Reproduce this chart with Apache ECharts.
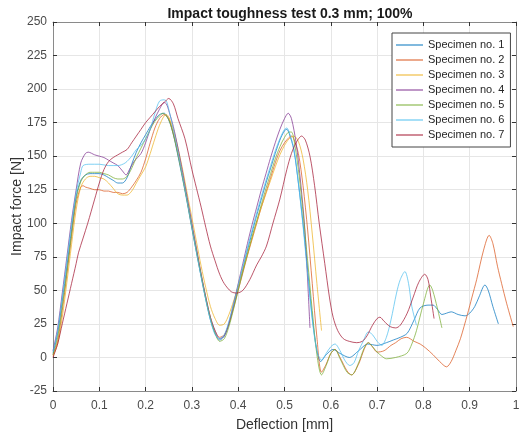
<!DOCTYPE html>
<html>
<head>
<meta charset="utf-8">
<script src="https://cdn.jsdelivr.net/npm/echarts@6/dist/echarts.min.js"></script>
<style>
html,body{margin:0;padding:0;background:#fff;}
#chart{width:524px;height:434px;}
</style>
</head>
<body>
<div id="chart"></div>
<script>
const titleText = 'Impact toughness test 0.3 mm; 100%';
const xName = 'Deflection [mm]';
const yName = 'Impact force [N]';
const seriesNames = ['Specimen no. 1','Specimen no. 2','Specimen no. 3','Specimen no. 4','Specimen no. 5','Specimen no. 6','Specimen no. 7'];

const specimen1 = [[0,3],[0.01,18],[0.02,42],[0.03,68],[0.04,95],[0.05,120],[0.06,132],[0.07,136],[0.08,137],[0.09,137],[0.10,137],[0.11,136],[0.12,134],[0.13,132],[0.14,130],[0.15,130],[0.16,134],[0.17,144],[0.18,153],[0.19,160],[0.20,166],[0.21,172],[0.22,177],[0.23,181],[0.24,182],[0.25,177],[0.26,166],[0.27,150],[0.28,133],[0.29,115],[0.30,96],[0.31,78],[0.32,60],[0.33,43],[0.34,28],[0.35,18],[0.36,13],[0.37,16],[0.38,25],[0.39,38],[0.40,52],[0.41,66],[0.42,80],[0.43,93],[0.44,106],[0.45,118],[0.46,130],[0.47,141],[0.48,152],[0.49,162],[0.50,169],[0.505,170],[0.51,167],[0.52,155],[0.53,130],[0.54,100],[0.55,65],[0.56,30],[0.57,5],[0.578,-3],[0.59,2],[0.605,6],[0.62,3],[0.64,0],[0.66,5],[0.68,10],[0.70,9],[0.72,11],[0.735,13],[0.75,15],[0.765,18],[0.78,28],[0.793,37],[0.81,39],[0.821,39],[0.83,36],[0.84,32],[0.85,33],[0.86,34],[0.875,32],[0.89,31],[0.90,33],[0.911,38],[0.92,45],[0.933,54],[0.94,50],[0.95,38],[0.962,25]];
const specimen2 = [[0,2],[0.01,12],[0.02,35],[0.03,62],[0.04,90],[0.05,115],[0.06,127],[0.065,128],[0.07,127],[0.08,126],[0.09,125],[0.10,125],[0.11,124],[0.12,124],[0.13,123],[0.14,123],[0.15,122],[0.16,123],[0.17,127],[0.18,132],[0.19,138],[0.20,148],[0.21,160],[0.22,171],[0.23,178],[0.24,181],[0.25,178],[0.26,167],[0.27,152],[0.28,135],[0.29,117],[0.30,98],[0.31,80],[0.32,62],[0.33,45],[0.34,30],[0.35,20],[0.36,15],[0.37,17],[0.38,25],[0.39,37],[0.40,50],[0.41,63],[0.42,76],[0.43,88],[0.44,100],[0.45,112],[0.46,123],[0.47,134],[0.48,145],[0.49,154],[0.50,160],[0.51,164],[0.515,165],[0.52,163],[0.53,152],[0.54,128],[0.55,95],[0.56,55],[0.57,15],[0.58,-11],[0.59,-5],[0.60,3],[0.609,6],[0.62,0],[0.635,-10],[0.645,-13],[0.66,-5],[0.672,6],[0.681,11],[0.69,8],[0.70,4],[0.715,5],[0.73,9],[0.74,11],[0.752,14],[0.764,15],[0.78,12],[0.793,10],[0.805,7],[0.821,2],[0.835,-3],[0.85,-7],[0.86,-3],[0.87,5],[0.88,14],[0.895,32],[0.905,45],[0.915,58],[0.93,80],[0.942,91],[0.95,85],[0.96,68],[0.969,55],[0.98,40],[0.994,23]];
const specimen3 = [[0,1],[0.01,10],[0.02,30],[0.03,56],[0.04,84],[0.05,110],[0.06,127],[0.07,133],[0.08,135],[0.09,135],[0.10,134],[0.11,133],[0.12,130],[0.13,126],[0.14,122],[0.15,121],[0.16,121],[0.17,124],[0.18,130],[0.19,136],[0.20,142],[0.21,152],[0.22,163],[0.23,173],[0.24,180],[0.245,181],[0.25,179],[0.26,170],[0.27,156],[0.28,140],[0.29,122],[0.30,104],[0.31,86],[0.32,68],[0.33,52],[0.34,38],[0.35,29],[0.36,24],[0.37,25],[0.38,32],[0.39,42],[0.40,53],[0.41,65],[0.42,77],[0.43,89],[0.44,101],[0.45,112],[0.46,122],[0.47,132],[0.48,142],[0.49,151],[0.50,158],[0.51,163],[0.52,165],[0.53,161],[0.54,148],[0.55,125],[0.56,92],[0.57,55],[0.58,20]];
const specimen4 = [[0,5],[0.01,22],[0.02,48],[0.03,75],[0.04,102],[0.05,125],[0.06,145],[0.07,152],[0.076,153],[0.09,151],[0.10,150],[0.11,149],[0.12,147],[0.13,145],[0.14,143],[0.15,139],[0.158,136],[0.165,140],[0.175,146],[0.19,152],[0.20,160],[0.21,170],[0.22,178],[0.23,185],[0.24,190],[0.245,189],[0.25,184],[0.26,172],[0.27,156],[0.28,138],[0.29,119],[0.30,100],[0.31,81],[0.32,62],[0.33,45],[0.34,30],[0.35,20],[0.36,14],[0.37,16],[0.38,26],[0.39,40],[0.40,55],[0.41,70],[0.42,85],[0.43,99],[0.44,112],[0.45,125],[0.46,137],[0.47,149],[0.48,160],[0.49,170],[0.50,178],[0.508,182],[0.515,178],[0.525,160],[0.535,130],[0.544,95],[0.555,22]];
const specimen5 = [[0,2],[0.01,15],[0.02,38],[0.03,64],[0.04,92],[0.05,118],[0.06,131],[0.07,136],[0.08,138],[0.09,138],[0.10,138],[0.11,137],[0.12,136],[0.13,134],[0.14,133],[0.15,133],[0.16,135],[0.17,141],[0.18,149],[0.19,156],[0.20,163],[0.21,170],[0.22,176],[0.23,180],[0.237,182],[0.25,177],[0.26,166],[0.27,151],[0.28,134],[0.29,116],[0.30,97],[0.31,79],[0.32,61],[0.33,44],[0.34,29],[0.35,18],[0.36,12],[0.37,14],[0.38,23],[0.39,36],[0.40,50],[0.41,64],[0.42,77],[0.43,90],[0.44,102],[0.45,114],[0.46,126],[0.47,137],[0.48,148],[0.49,157],[0.50,164],[0.51,168],[0.515,168],[0.52,163],[0.53,140],[0.54,108],[0.55,72],[0.56,35],[0.57,2],[0.58,-13],[0.59,-6],[0.60,3],[0.609,6],[0.62,-1],[0.635,-11],[0.645,-13],[0.66,-4],[0.672,7],[0.681,11],[0.69,8],[0.70,4],[0.71,1],[0.72,-1],[0.74,0],[0.764,3],[0.775,10],[0.785,20],[0.80,40],[0.814,54],[0.82,50],[0.83,37],[0.84,22]];
const specimen6 = [[0,4],[0.01,20],[0.02,45],[0.03,72],[0.04,99],[0.05,123],[0.06,138],[0.065,143],[0.08,144],[0.10,144],[0.12,143],[0.14,143],[0.156,145],[0.17,150],[0.18,155],[0.19,158],[0.20,163],[0.21,170],[0.22,182],[0.23,191],[0.24,192],[0.245,191],[0.25,185],[0.26,170],[0.27,153],[0.28,135],[0.29,116],[0.30,97],[0.31,78],[0.32,60],[0.33,43],[0.34,28],[0.35,17],[0.36,14],[0.37,17],[0.38,27],[0.39,40],[0.40,54],[0.41,68],[0.42,82],[0.43,95],[0.44,108],[0.45,120],[0.46,132],[0.47,143],[0.48,154],[0.49,163],[0.50,170],[0.505,171],[0.51,168],[0.52,156],[0.53,130],[0.54,98],[0.55,62],[0.56,28],[0.57,5],[0.58,-2],[0.59,3],[0.60,8],[0.609,10],[0.62,5],[0.63,-2],[0.641,-6],[0.65,-4],[0.66,5],[0.67,12],[0.681,19],[0.69,17],[0.70,12],[0.71,9],[0.72,15],[0.73,28],[0.742,48],[0.75,58],[0.76,64],[0.768,55],[0.775,38],[0.785,24]];
const specimen7 = [[0,0],[0.01,10],[0.02,25],[0.03,40],[0.04,55],[0.05,70],[0.055,78],[0.065,89],[0.075,100],[0.09,118],[0.10,130],[0.11,140],[0.12,146],[0.13,149],[0.14,151],[0.15,153],[0.16,155],[0.17,160],[0.18,165],[0.19,170],[0.20,175],[0.21,179],[0.22,183],[0.23,187],[0.24,190],[0.25,193],[0.26,189],[0.27,178],[0.285,163],[0.30,140],[0.31,126],[0.32,112],[0.33,97],[0.34,83],[0.35,72],[0.36,62],[0.37,55],[0.385,49],[0.397,48],[0.41,50],[0.425,58],[0.44,69],[0.45,75],[0.461,83],[0.475,100],[0.49,118],[0.505,140],[0.515,152],[0.525,160],[0.537,165],[0.545,162],[0.555,150],[0.565,128],[0.575,100],[0.587,70],[0.597,45],[0.605,30],[0.615,20],[0.627,14],[0.64,12],[0.656,11],[0.668,12],[0.678,16],[0.69,24],[0.70,29],[0.706,30],[0.715,27],[0.728,23],[0.74,22],[0.75,24],[0.765,33],[0.778,45],[0.79,56],[0.803,62],[0.81,58],[0.816,45],[0.823,29]];

const allSeries = [specimen1, specimen2, specimen3, specimen4, specimen5, specimen6, specimen7];
const colors = ['#0072BD','#D95319','#EDB120','#7E2F8E','#77AC30','#4DBEEE','#A2142F'];

const chart = echarts.init(document.getElementById('chart'), null, {renderer:'canvas'});
const font = 'Liberation Sans, Arial, sans-serif';
const axisColor = '#8a8a8a';
const labelColor = '#4a4a4a';
const option = {
  animation:false,
  backgroundColor:'#fff',
  color: colors,
  title:{text:titleText, left:285, textAlign:'center', top:2,
    textStyle:{fontFamily:font, fontSize:14, fontWeight:'bold', color:'#1a1a1a'}},
  grid:{left:53, right:8, top:22, bottom:43, containLabel:false, outerBoundsMode:'none'},
  legend:{
    orient:'vertical', left:392, top:33, width:116,
    backgroundColor:'#fff', borderColor:'#444', borderWidth:1,
    padding:[6,6,6,4], itemWidth:27, itemHeight:12, itemGap:3,
    icon:'path://M0,6 L27,6 L27,7 L0,7 Z',
    textStyle:{fontFamily:font, fontSize:11, color:'#262626', lineHeight:12},
    data: seriesNames
  },
  xAxis:[{
    type:'value', min:0, max:1, interval:0.1, position:'bottom',
    name:xName, nameLocation:'middle', nameGap:27, nameMoveOverlap:false,
    nameTextStyle:{fontFamily:font, fontSize:14, color:'#333'},
    axisLine:{show:true, onZero:false, lineStyle:{color:axisColor, width:1}},
    axisTick:{show:true, inside:true, length:4, lineStyle:{color:'#333'}},
    axisLabel:{fontFamily:font, fontSize:12, color:labelColor, margin:9, showMinLabel:true, showMaxLabel:true},
    splitLine:{show:true, lineStyle:{color:'#e6e6e6', width:1}}
  },{
    type:'value', min:0, max:1, interval:0.1, position:'top',
    axisLine:{show:true, onZero:false, lineStyle:{color:axisColor, width:1}},
    axisTick:{show:true, inside:true, length:4, lineStyle:{color:'#333'}},
    axisLabel:{show:false}, splitLine:{show:false}
  }],
  yAxis:[{
    type:'value', min:-25, max:250, interval:25, position:'left',
    name:yName, nameLocation:'middle', nameGap:29, nameRotate:90, nameMoveOverlap:false,
    nameTextStyle:{fontFamily:font, fontSize:14, color:'#333'},
    axisLine:{show:true, onZero:false, lineStyle:{color:axisColor, width:1}},
    axisTick:{show:true, inside:true, length:4, lineStyle:{color:'#333'}},
    axisLabel:{fontFamily:font, fontSize:12, color:labelColor, margin:6, showMinLabel:true, showMaxLabel:true},
    splitLine:{show:true, lineStyle:{color:'#e6e6e6', width:1}}
  },{
    type:'value', min:-25, max:250, interval:25, position:'right',
    axisLine:{show:true, onZero:false, lineStyle:{color:axisColor, width:1}},
    axisTick:{show:true, inside:true, length:4, lineStyle:{color:'#333'}},
    axisLabel:{show:false}, splitLine:{show:false}
  }],
  series: allSeries.map((d,i)=>({
    name:seriesNames[i], type:'line', data:d, smooth:0.3,
    symbol:'none', showSymbol:false, xAxisIndex:0, yAxisIndex:0,
    lineStyle:{width:0.9, color:colors[i], opacity:0.8},
    itemStyle:{color:colors[i]},
    z:2+i
  }))
};
chart.setOption(option);
</script>
</body>
</html>
